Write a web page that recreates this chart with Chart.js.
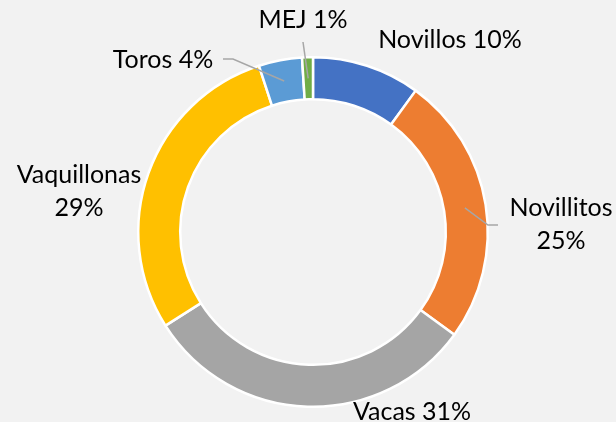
<!DOCTYPE html>
<html>
<head>
<meta charset="utf-8">
<script src="https://cdn.jsdelivr.net/npm/chart.js@4"></script>
<style>
  html, body { margin: 0; padding: 0; background: #f2f2f2; }
  #wrap { width: 616px; height: 422px; }
</style>
</head>
<body>
<div id="wrap"><canvas id="chart" width="616" height="422"></canvas></div>
<script>
const categories = ['Novillos', 'Novillitos', 'Vacas', 'Vaquillonas', 'Toros', 'MEJ']
const shares = [10, 25, 31, 29, 4, 1]
const colors = ['#4472C4', '#ED7D31', '#A5A5A5', '#FFC000', '#5B9BD5', '#70AD47']

// label placement relative to the ring centre: text centre, whether split in two lines, leader elbow/end
const labelLayout = [
  { dx: 137, dy: -192, twoLines: false, leader: null },
  { dx: 248, dy: -24, twoLines: true, leader: [[175, -7], [185, -7]] },
  { dx: 99, dy: 180, twoLines: false, leader: null },
  { dx: -234, dy: -57, twoLines: true, leader: null },
  { dx: -150, dy: -172, twoLines: false, leader: [[-80, -173], [-90, -173]] },
  { dx: -10, dy: -212, twoLines: false, leader: [[-10, -190]] }
]

const labelPlugin = {
  id: 'sliceLabels',
  afterDatasetsDraw(chart) {
    const ctx = chart.ctx
    const arcs = chart.getDatasetMeta(0).data
    ctx.save()
    ctx.font = '25px Lato, "Open Sans", sans-serif'
    ctx.fillStyle = '#000'
    ctx.textAlign = 'center'
    ctx.textBaseline = 'middle'
    arcs.forEach((arc, i) => {
      const p = arc.getProps(['x', 'y', 'startAngle', 'endAngle', 'innerRadius', 'outerRadius'], true)
      const lay = labelLayout[i]
      const text = categories[i] + ' ' + shares[i] + '%'
      if (lay.leader) {
        const mid = (p.startAngle + p.endAngle) / 2
        const r = (p.innerRadius + p.outerRadius) / 2
        ctx.strokeStyle = '#a6a6a6'
        ctx.lineWidth = 1.5
        ctx.beginPath()
        ctx.moveTo(p.x + Math.cos(mid) * r, p.y + Math.sin(mid) * r)
        lay.leader.forEach(pt => ctx.lineTo(p.x + pt[0], p.y + pt[1]))
        ctx.stroke()
      }
      if (lay.twoLines) {
        ctx.fillText(categories[i], p.x + lay.dx, p.y + lay.dy)
        ctx.fillText(shares[i] + '%', p.x + lay.dx, p.y + lay.dy + 33)
      } else {
        ctx.fillText(text, p.x + lay.dx, p.y + lay.dy)
      }
    })
    ctx.restore()
  }
}

new Chart(document.getElementById('chart'), {
  type: 'doughnut',
  data: {
    labels: categories,
    datasets: [{
      data: shares,
      backgroundColor: colors,
      borderColor: '#ffffff',
      borderWidth: 2.5
    }]
  },
  options: {
    responsive: false,
    animation: false,
    cutout: '76%',
    layout: { padding: { left: 137, right: 127, top: 56, bottom: 14 } },
    plugins: {
      legend: { display: false },
      tooltip: { enabled: false }
    }
  },
  plugins: [labelPlugin]
})
</script>
</body>
</html>
